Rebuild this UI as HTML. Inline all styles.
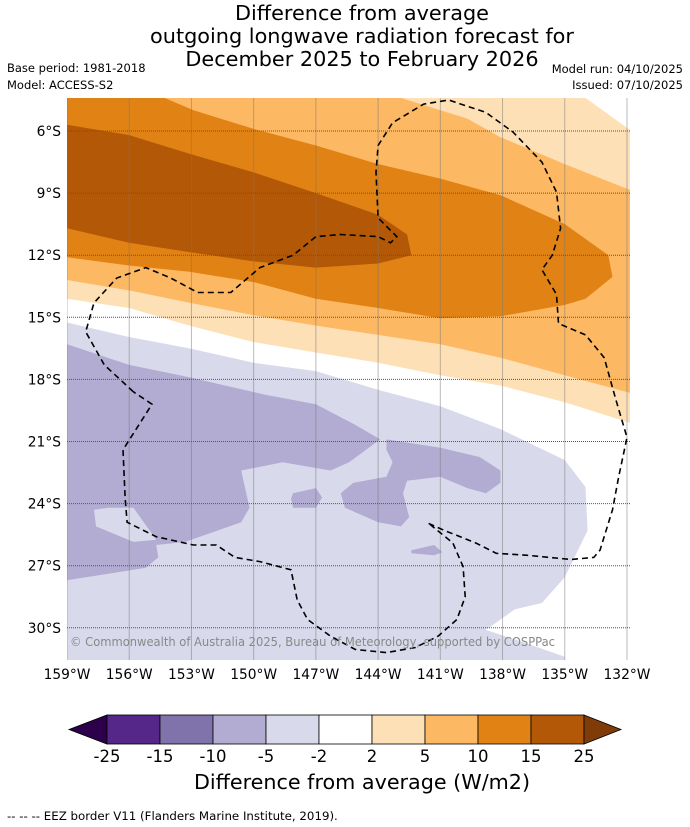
<!DOCTYPE html>
<html><head><meta charset="utf-8"><style>
body{margin:0;background:#fff;width:690px;height:827px;overflow:hidden;font-family:"DejaVu Sans","Liberation Sans",sans-serif}
svg{display:block}
</style></head><body>
<svg id="chart" width="690" height="827" xmlns="http://www.w3.org/2000/svg" font-family="DejaVu Sans, Liberation Sans, sans-serif">
<g font-size="20.8" text-anchor="middle" fill="#000">
<text x="362" y="20">Difference from average</text>
<text x="362" y="43">outgoing longwave radiation forecast for</text>
<text x="362" y="66">December 2025 to February 2026</text>
</g>
<g font-size="11.5">
<text x="7" y="72">Base period: 1981-2018</text>
<text x="7" y="89">Model: ACCESS-S2</text>
</g>
<g font-size="11.5" text-anchor="end">
<text x="683" y="73">Model run: 04/10/2025</text>
<text x="683" y="89">Issued: 07/10/2025</text>
</g>
<defs><clipPath id="mapclip"><rect x="67" y="98" width="563" height="562"/></clipPath></defs>
<g id="map" clip-path="url(#mapclip)"></g>
<g id="axes"></g>
<text x="70" y="646" font-size="12" fill="#888" textLength="485" lengthAdjust="spacingAndGlyphs">© Commonwealth of Australia 2025, Bureau of Meteorology, supported by COSPPac</text>
<g id="cbar"></g>
<text x="362" y="789" font-size="20.7" text-anchor="middle">Difference from average (W/m2)</text>
<text x="7" y="820" font-size="11.8">--  --  -- EEZ border V11 (Flanders Marine Institute, 2019).</text>
</svg>
<script>
const lonTicks=[159,156,153,150,147,144,141,138,135,132];
const latTicks=[6,9,12,15,18,21,24,27,30];
const peach=[[159,4.4],[134.0,4.4],[131.85,5.95],[131.85,20.1],[135,19.1],[138.1,18.3],[141,17.8],[144,17.2],[147,16.7],[150,16.2],[153.1,15.4],[156,14.55],[159,14.1]];
const orange5=[[159,4.4],[142.9,4.4],[139.7,5.4],[138.1,6.3],[135,7.6],[131.85,8.85],[131.85,18.65],[135,17.8],[138.1,16.95],[141,16.3],[144,15.85],[147,15.4],[150,14.9],[153.1,14.3],[156,13.7],[159,13.2]];
const orange10=[[159,4.4],[154.3,4.4],[152.9,5.0],[150,5.9],[147,6.7],[144,7.6],[141,8.3],[138.1,9.1],[135,10.5],[132.9,12.0],[132.7,13.05],[134,14.1],[135,14.4],[138.1,14.95],[141,15.05],[144,14.55],[147,14.1],[150,13.3],[153.1,12.8],[156,12.5],[159,12.1]];
const brown15=[[159,5.7],[156,6.2],[153.1,7.1],[150,8.0],[147,9.0],[144,10.05],[142.6,11.0],[142.4,12.0],[144,12.4],[147,12.6],[150,12.3],[153.1,11.85],[156,11.4],[159,10.7]];
const lav2=[[159,15.25],[156,15.95],[153.1,16.5],[150,17.2],[147,17.6],[144,18.5],[141,19.3],[138.1,20.4],[135,21.9],[134,23.2],[133.9,25.3],[135,27.55],[136.1,28.8],[137.4,29.1],[138.8,30.1],[137,30.7],[135,31.4],[135,31.6],[159,31.6]];
const purpleMain=[[159,16.3],[156,17.3],[153.1,17.9],[149.4,18.75],[147,19.2],[145.1,20.2],[143.9,20.9],[145.4,22.0],[146.3,22.4],[148.6,22.0],[150.6,22.4],[150.2,24.2],[150.6,24.9],[153.3,25.85],[154.7,26.0],[154.6,26.6],[155.2,27.1],[159,27.7]];
const lavHole=[[157.7,24.3],[157.0,24.2],[155.8,24.2],[154.7,25.75],[155.8,25.85],[157.6,25.1]];
const purpleE=[[143.6,20.9],[141,21.3],[139.1,21.75],[138.1,22.4],[138.1,23.0],[138.8,23.5],[139.7,23.25],[141,22.7],[142.6,22.9],[142.8,23.5],[142.5,24.65],[142.9,25.1],[144,24.9],[145.6,24.2],[145.8,23.5],[145.2,23.0],[143.6,22.7],[143.3,22.0],[143.6,21.4]];
const purpleS1=[[148.1,23.5],[147.0,23.25],[146.7,23.7],[147.0,24.2],[148.1,24.2],[148.2,23.75]];
const purpleS2=[[142.4,26.25],[141.3,26.0],[140.9,26.35],[141.3,26.5],[142.4,26.4]];
const eez1=[[155.8,18.6],[157.2,17.3],[158.1,15.7],[157.7,14.3],[156.6,13.1],[155.2,12.6],[154.0,13.1],[152.7,13.8],[151.1,13.8],[149.7,12.6],[148.1,12.0],[147.0,11.1],[145.8,11.0],[144.0,11.1],[143.4,11.4],[143.1,11.1],[144,10.2],[144.1,8.0],[144,6.7],[143.3,5.6],[141.8,4.7],[140.6,4.5],[138.8,5.1],[137.5,6.05],[136.1,7.5],[135.4,8.95],[135.2,10.7],[135.6,12.0],[136.1,12.7],[135.4,13.9],[135.3,15.3],[134,15.85],[133.1,16.95],[132.7,18.4],[132.5,19.1],[132.0,20.8],[132.4,22.7],[132.7,24.3],[133.3,26.25],[133.6,26.6],[134.7,26.7],[136.8,26.5],[138.3,26.4],[139.3,25.9],[140.8,25.3],[141.7,24.9]];
const eez2=[[141.5,25.0],[140.4,25.9],[139.9,27.05],[139.8,28.5],[140.2,29.6],[141.1,30.4],[142.2,30.95],[143.6,31.2],[145.1,31.05],[146.3,30.4],[147.4,29.6],[147.9,28.65],[148.2,27.2],[149.7,26.8],[150.9,26.6],[151.8,26.0],[152.9,26.0],[154.7,25.6],[156.1,24.9],[156.2,23.7],[156.3,21.4],[154.9,19.2],[155.8,18.6]];
const cbarLabels=["-25","-15","-10","-5","-2","2","5","10","15","25"];
const cbarColors=["#542788","#8073ac","#b2abd2","#d8daeb","#ffffff","#fee0b6","#fdb863","#e08214","#b35806"];

const NS="http://www.w3.org/2000/svg";
const X=lon=>67+(159-lon)*20.74;
const Y=lat=>131+(lat-6)*20.7;
const pts=a=>a.map(p=>X(p[0]).toFixed(1)+","+Y(p[1]).toFixed(1)).join(" ");
function mk(tag,parent){const e=document.createElementNS(NS,tag);parent.appendChild(e);return e;}
const map=document.getElementById('map');
const bg=mk('rect',map);bg.setAttribute('x',67);bg.setAttribute('y',98);bg.setAttribute('width',563);bg.setAttribute('height',562);bg.setAttribute('fill','#fff');


const layers=[[peach,'#fee0b6','contour-2-5'],[orange5,'#fdb863','contour-5-10'],[orange10,'#e08214','contour-10-15'],[brown15,'#b35806','contour-15-25'],[lav2,'#d8daeb','contour-neg2-neg5'],[purpleMain,'#b2abd2','contour-neg5-neg10-main'],[lavHole,'#d8daeb','contour-neg2-hole'],[purpleE,'#b2abd2','contour-neg5-east'],[purpleS1,'#b2abd2','contour-neg5-small'],[purpleS2,'#b2abd2','contour-neg5-small-2']];
layers.forEach(l=>{const p=mk('polygon',map);p.setAttribute('points',pts(l[0]));p.setAttribute('fill',l[1]);

});
lonTicks.forEach(l=>{const g=mk('line',map);g.setAttribute('x1',X(l));g.setAttribute('x2',X(l));g.setAttribute('y1',98);g.setAttribute('y2',660);g.setAttribute('stroke','#777');g.setAttribute('stroke-opacity','0.5');g.setAttribute('stroke-width','1');

});
latTicks.forEach(l=>{const g=mk('line',map);g.setAttribute('x1',67);g.setAttribute('x2',630);g.setAttribute('y1',Y(l));g.setAttribute('y2',Y(l));g.setAttribute('stroke','#555');g.setAttribute('stroke-dasharray','1,1');g.setAttribute('stroke-width','1');

});
[eez1,eez2].forEach(e=>{const p=mk('polyline',map);p.setAttribute('points',pts(e));p.setAttribute('fill','none');p.setAttribute('stroke','#000');p.setAttribute('stroke-width','1.6');p.setAttribute('stroke-dasharray','6,4');

});
const axes=document.getElementById('axes');
lonTicks.forEach(l=>{const t=mk('text',axes);t.setAttribute('x',X(l));t.setAttribute('y',679);t.setAttribute('font-size','13.8');t.setAttribute('text-anchor','middle');t.textContent=l+"°W";

});
latTicks.forEach(l=>{const t=mk('text',axes);t.setAttribute('x',61);t.setAttribute('y',Y(l)+5);t.setAttribute('font-size','13.8');t.setAttribute('text-anchor','end');t.textContent=l+"°S";

});
const cb=document.getElementById('cbar');
const cx0=107,cw=53,cy=715,ch=29;
const lt=mk('polygon',cb);lt.setAttribute('points',`69,${cy+ch/2} ${cx0},${cy} ${cx0},${cy+ch}`);lt.setAttribute('fill','#2d004b');lt.setAttribute('stroke','#000');lt.setAttribute('stroke-width','0.8');


cbarColors.forEach((c,i)=>{const r=mk('rect',cb);r.setAttribute('x',cx0+i*cw);r.setAttribute('y',cy);r.setAttribute('width',cw);r.setAttribute('height',ch);r.setAttribute('fill',c);r.setAttribute('stroke','#000');r.setAttribute('stroke-width','0.8');

});
const xe=cx0+cbarColors.length*cw;
const rt=mk('polygon',cb);rt.setAttribute('points',`${xe},${cy} ${xe+37},${cy+ch/2} ${xe},${cy+ch}`);rt.setAttribute('fill','#7f3b08');rt.setAttribute('stroke','#000');rt.setAttribute('stroke-width','0.8');


cbarLabels.forEach((s,i)=>{const t=mk('text',cb);t.setAttribute('x',cx0+i*cw);t.setAttribute('y',762);t.setAttribute('font-size','16.5');t.setAttribute('text-anchor','middle');t.textContent=s;

});
</script>
</body></html>
